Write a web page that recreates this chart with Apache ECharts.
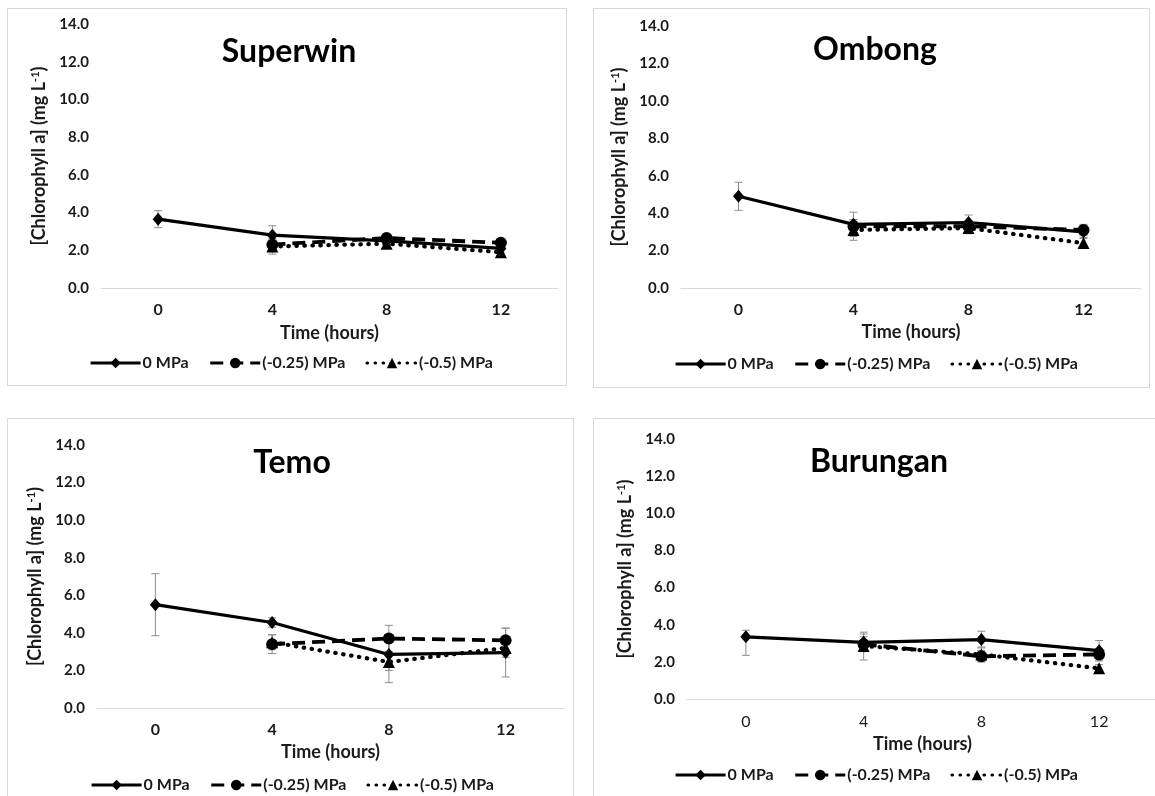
<!DOCTYPE html>
<html><head><meta charset="utf-8">
<script src="https://cdn.jsdelivr.net/npm/echarts/dist/echarts.min.js"></script>
<style>
html,body{margin:0;padding:0;background:#fff;width:1155px;height:796px;overflow:hidden;position:relative;}
.panel{position:absolute;border:1px solid #d9d9d9;box-sizing:border-box;background:#fff;overflow:hidden;}
.chart{position:absolute;left:0;top:0;}
</style></head><body>
<div id="p1" class="panel" style="left:7px;top:8px;width:560px;height:378px"><div id="c1" class="chart" style="width:560px;height:378px"></div></div>
<div id="p2" class="panel" style="left:593px;top:8px;width:557px;height:380px"><div id="c2" class="chart" style="width:557px;height:380px"></div></div>
<div id="p3" class="panel" style="left:7px;top:418px;width:567px;height:400px"><div id="c3" class="chart" style="width:567px;height:400px"></div></div>
<div id="p4" class="panel" style="left:593px;top:418px;width:600px;height:400px"><div id="c4" class="chart" style="width:600px;height:400px"></div></div>
<script>
// ---- data ----
const categories = ['0', '4', '8', '12'];
const seriesNames = ['0 MPa', '(-0.25) MPa', '(-0.5) MPa'];
const titles = ['Superwin', 'Ombong', 'Temo', 'Burungan'];
const yAxisName = '[Chlorophyll a] (mg L{s|-1})';
const xAxisName = 'Time (hours)';

const superwin0   = [3.65, 2.8, 2.5, 2.1];
const superwin025 = [null, 2.3, 2.65, 2.4];
const superwin05  = [null, 2.2, 2.35, 1.9];
const superwinErr0   = [0.45, 0.5, 0.2, 0.2];
const superwinErr025 = [null, 0.3, 0.15, 0.15];
const superwinErr05  = [null, 0.4, 0.2, 0.15];

const ombong0   = [4.9, 3.4, 3.5, 3.0];
const ombong025 = [null, 3.3, 3.3, 3.1];
const ombong05  = [null, 3.1, 3.2, 2.4];
const ombongErr0   = [0.75, 0.65, 0.4, 0.3];
const ombongErr025 = [null, 0.35, 0.3, 0.3];
const ombongErr05  = [null, 0.55, 0.3, 0.25];

const temo0   = [5.5, 4.55, 2.85, 2.95];
const temo025 = [null, 3.4, 3.7, 3.6];
const temo05  = [null, 3.5, 2.45, 3.2];
const temoErr0   = [1.65, 0.25, 0.85, 1.3];
const temoErr025 = [null, 0.5, 0.7, 0.65];
const temoErr05  = [null, 0.4, 1.1, 0.5];

const burungan0   = [3.35, 3.05, 3.2, 2.6];
const burungan025 = [null, 2.95, 2.3, 2.4];
const burungan05  = [null, 2.85, 2.4, 1.65];
const burunganErr0   = [[1.0, 0.35], 0.45, 0.45, 0.55];
const burunganErr025 = [null, 0.4, 0.3, 0.3];
const burunganErr05  = [null, 0.75, 0.4, 0.2];

// ---- layout / style ----
const FONT = 'Lato, "Open Sans", sans-serif';
const panels = [
  {el:'c1', title:titles[0], vals:[superwin0, superwin025, superwin05], errs:[superwinErr0, superwinErr025, superwinErr05],
   grid:{left:93, top:15, width:457, height:264}, titleX:276, titleY:22, legendX:76, legendY:341, xBold:true, xLabelMargin:14, xNameGap:36, yNameGap:50},
  {el:'c2', title:titles[1], vals:[ombong0, ombong025, ombong05], errs:[ombongErr0, ombongErr025, ombongErr05],
   grid:{left:87, top:17, width:460, height:262}, titleX:276, titleY:20, legendX:75, legendY:342, xBold:true, xLabelMargin:14, xNameGap:32, yNameGap:50},
  {el:'c3', title:titles[2], vals:[temo0, temo025, temo05], errs:[temoErr0, temoErr025, temoErr05],
   grid:{left:89, top:26, width:467, height:263}, titleX:279, titleY:23, legendX:77, legendY:353, xBold:true, xLabelMargin:14, xNameGap:35, yNameGap:50},
  {el:'c4', title:titles[3], vals:[burungan0, burungan025, burungan05], errs:[burunganErr0, burunganErr025, burunganErr05],
   grid:{left:93, top:20, width:471, height:260}, titleX:280, titleY:22, legendX:75, legendY:343, xBold:false, xLabelMargin:15, xNameGap:36, yNameGap:50}
];

const lineStyles = [
  {type:'solid', width:3.2, cap:'butt'},
  {type:[13, 7], width:3.8, cap:'butt'},
  {type:[0.5, 7.5], width:4.2, cap:'round'}
];
const symbols = [
  {symbol:'diamond', size:[11, 13]},
  {symbol:'circle', size:12},
  {symbol:'triangle', size:12}
];

function errSeries(name, vals, errs) {
  const data = [];
  vals.forEach((v, i) => {
    if (v == null || errs[i] == null) return;
    const e = errs[i];
    const lo = Array.isArray(e) ? v - e[0] : v - e;
    const hi = Array.isArray(e) ? v + e[1] : v + e;
    data.push([i, lo, hi]);
  });
  return {
    type:'custom', name:name + ' error', silent:true, z:1, data:data,
    encode:{x:0, y:[1, 2]},
    renderItem:function(params, api){
      const x = api.value(0);
      const lo = api.coord([x, api.value(1)]);
      const hi = api.coord([x, api.value(2)]);
      const w = 4;
      const st = {stroke:'#8c8c8c', lineWidth:1};
      return {type:'group', children:[
        {type:'line', shape:{x1:lo[0], y1:lo[1], x2:hi[0], y2:hi[1]}, style:st},
        {type:'line', shape:{x1:lo[0]-w, y1:lo[1], x2:lo[0]+w, y2:lo[1]}, style:st},
        {type:'line', shape:{x1:hi[0]-w, y1:hi[1], x2:hi[0]+w, y2:hi[1]}, style:st}
      ]};
    }
  };
}

panels.forEach(p => {
  const chart = echarts.init(document.getElementById(p.el), null, {renderer:'canvas'});
  const series = [];
  seriesNames.forEach((n, k) => series.push(errSeries(n, p.vals[k], p.errs[k])));
  seriesNames.forEach((n, k) => series.push({
    type:'line', name:n, data:p.vals[k], connectNulls:false,
    symbol:symbols[k].symbol, symbolSize:symbols[k].size, showSymbol:true,
    lineStyle:Object.assign({color:'#000'}, lineStyles[k]),
    itemStyle:{color:'#000', borderWidth:0},
    z:3 + k, emphasis:{disabled:true}
  }));
  chart.setOption({
    animation:false,
    backgroundColor:'#fff',
    title:{text:p.title, left:p.titleX, top:p.titleY, textAlign:'center',
      textStyle:{fontFamily:FONT, fontWeight:'bold', fontSize:32, color:'#000'}},
    grid:p.grid,
    legend:{data:seriesNames, left:p.legendX, top:p.legendY, itemWidth:50, itemHeight:13, itemGap:20,
      lineStyle:{width:3.2},
      textStyle:{fontFamily:FONT, fontWeight:'bold', fontSize:16, color:'#1a1a1a', padding:[0,0,0,-3]},
      selectedMode:false},
    xAxis:{type:'category', data:categories, boundaryGap:true,
      name:xAxisName, nameLocation:'middle', nameGap:p.xNameGap,
      nameTextStyle:{fontFamily:FONT, fontWeight:'bold', fontSize:18, color:'#1a1a1a'},
      axisLine:{show:true, lineStyle:{color:'#d9d9d9', width:1}},
      axisTick:{show:false},
      axisLabel:{fontFamily:FONT, fontWeight:p.xBold ? 'bold' : 'normal', fontSize:16, color:'#1a1a1a', margin:p.xLabelMargin},
      splitLine:{show:false}},
    yAxis:{type:'value', min:0, max:14, interval:2,
      name:yAxisName, nameLocation:'middle', nameGap:p.yNameGap,
      nameTextStyle:{fontFamily:FONT, fontWeight:'bold', fontSize:18, color:'#1a1a1a',
        rich:{s:{fontFamily:FONT, fontWeight:'bold', fontSize:11, color:'#1a1a1a', verticalAlign:'top', padding:[0,0,7,0]}}},
      axisLine:{show:false}, axisTick:{show:false}, splitLine:{show:false},
      axisLabel:{fontFamily:FONT, fontWeight:'bold', fontSize:15, color:'#1a1a1a', margin:12,
        formatter:v => v.toFixed(1)}},
    series:series
  });
});
</script>
</body></html>
